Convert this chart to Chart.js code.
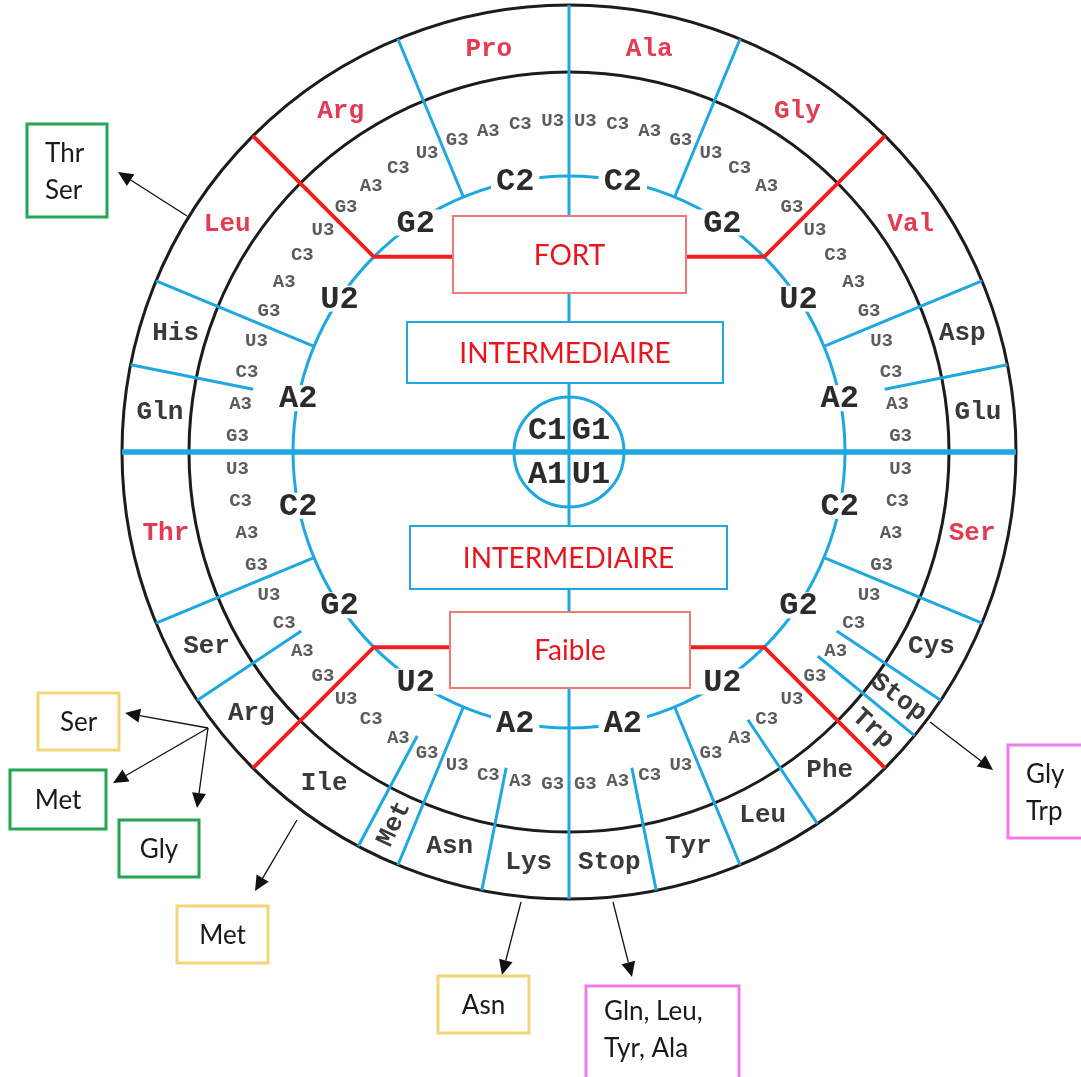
<!DOCTYPE html>
<html>
<head>
<meta charset="utf-8">
<script src="https://cdn.jsdelivr.net/npm/chart.js@4.4.1/dist/chart.umd.min.js"></script>
<style>
  html, body { margin: 0; padding: 0; background: #fff; overflow: hidden; }
  canvas { display: block; }
</style>
</head>
<body>
<canvas id="wheel" width="1081" height="1077"></canvas>
<script>
// ── Data ─────────────────────────────────────────────────
// Quadrants go clockwise from 12 o'clock. Inside a quadrant the 16 codons are listed
// 2nd base (outer loop) then 3rd base (inner loop), starting from the axis the quadrant opens on.
const FIRST_BASES  = ['G1', 'U1', 'A1', 'C1'];
const SECOND_BASES = ['C2', 'G2', 'U2', 'A2'];
const THIRD_BASES  = ['U3', 'C3', 'A3', 'G3'];

const AA_G1 = ['Ala','Ala','Ala','Ala', 'Gly','Gly','Gly','Gly', 'Val','Val','Val','Val', 'Asp','Asp','Glu','Glu'];
const AA_U1 = ['Ser','Ser','Ser','Ser', 'Cys','Cys','Stop','Trp', 'Phe','Phe','Leu','Leu', 'Tyr','Tyr','Stop','Stop'];
const AA_A1 = ['Thr','Thr','Thr','Thr', 'Ser','Ser','Arg','Arg', 'Ile','Ile','Ile','Met', 'Asn','Asn','Lys','Lys'];
const AA_C1 = ['Pro','Pro','Pro','Pro', 'Arg','Arg','Arg','Arg', 'Leu','Leu','Leu','Leu', 'His','His','Gln','Gln'];
const AMINO = [AA_G1, AA_U1, AA_A1, AA_C1];

const BOX_LABELS   = ['FORT', 'INTERMEDIAIRE', 'INTERMEDIAIRE', 'Faible'];
const CALLOUT_TEXT = [['Thr', 'Ser'], ['Ser'], ['Met'], ['Gly'], ['Met'], ['Asn'], ['Gln, Leu,', 'Tyr, Ala'], ['Gly', 'Trp']];

// ── Layout (chart units = px, origin at the wheel centre) ─
const QUAD_START = [0, 90, 270, 360];   // degrees clockwise from 12 o'clock
const QUAD_DIR   = [1, 1, -1, -1];
const STEP = 90 / 16;
const R = { outer: 447, ring: 380, aa: 411, third: 332, sub: 322, second: 276, hub: 55, hubText: 31 };

const BLUE = '#1fa8e0', RED = '#f01e1e', INK = '#1c1c1c';
const MONO = '"Liberation Mono", "Courier New", monospace';
const SANS = 'Lato, "Open Sans", sans-serif';

// x0,x1,y0,y1 in chart units (y up)
const BOXES = [
  { x0: -116, x1: 117, y0: 159, y1: 236, stroke: '#f07a7a' },
  { x0: -162, x1: 154, y0: 69,  y1: 130, stroke: BLUE },
  { x0: -159, x1: 158, y0: -137, y1: -74, stroke: BLUE },
  { x0: -119, x1: 121, y0: -236, y1: -160, stroke: '#f07a7a' },
];
const GREEN = '#25a456', YELLOW = '#f3d67a', PINK = '#ee7cef';
const CALLOUTS = [
  { box: [-542, -462, 235, 328],  from: [-382, 236],  tip: [-451, 280],  color: GREEN },
  { box: [-531, -450, -298, -241], from: [-361, -276], tip: [-444, -261], color: YELLOW },
  { box: [-559, -463, -377, -318], from: [-361, -276], tip: [-456, -331], color: GREEN },
  { box: [-450, -370, -425, -368], from: [-361, -276], tip: [-372, -356], color: GREEN },
  { box: [-392, -301, -511, -454], from: [-272, -368], tip: [-314, -439], color: YELLOW },
  { box: [-131, -40, -581, -524],  from: [-48, -450],  tip: [-67, -523],  color: YELLOW },
  { box: [17, 170, -645, -534],    from: [44, -450],   tip: [63, -525],   color: PINK },
  { box: [439, 525, -386, -293],   from: [361, -270],  tip: [424, -318],  color: PINK },
];

const rad = d => d * Math.PI / 180;
const toXY = (r, deg) => ({ x: r * Math.sin(rad(deg)), y: r * Math.cos(rad(deg)) });
const codonAngle = (q, k) => QUAD_START[q] + QUAD_DIR[q] * k * STEP;

// ── Radial lines as datasets ─────────────────────────────
const lineSets = [];
function addLine(points, color, width) {
  lineSets.push({ data: points, borderColor: color, borderWidth: width, showLine: true,
                  pointRadius: 0, borderCapStyle: 'butt', borderJoinStyle: 'miter' });
}
addLine([toXY(R.outer, 0), toXY(R.outer, 180)], BLUE, 3);
addLine([toXY(R.outer, 270), toXY(R.outer, 90)], BLUE, 5.5);

FIRST_BASES.forEach((fb, q) => {
  for (let k = 1; k < 16; k++) {
    const deg = codonAngle(q, k);
    if (k % 4 === 0) {
      const before = SECOND_BASES[k / 4 - 1], after = SECOND_BASES[k / 4];
      if (before === 'G2' && after === 'U2') {
        const p = toXY(R.second, deg);
        const box = p.y > 0 ? BOXES[0] : BOXES[3];
        addLine([{ x: p.x < 0 ? box.x0 : box.x1, y: p.y }, p, toXY(R.outer, deg)], RED, 4);
      } else {
        addLine([toXY(R.second, deg), toXY(R.outer, deg)], BLUE, 3);
      }
    } else if (AMINO[q][k - 1] !== AMINO[q][k]) {
      addLine([toXY(R.sub, deg), toXY(R.outer, deg)], BLUE, 3);
    }
  }
});

// ── Drawing helpers (everything converted through the scales) ─
function px(chart, x, y) {
  return [chart.scales.x.getPixelForValue(x), chart.scales.y.getPixelForValue(y)];
}
function plen(chart, r) {
  return chart.scales.x.getPixelForValue(r) - chart.scales.x.getPixelForValue(0);
}
function circle(chart, r, color, width) {
  const ctx = chart.ctx, [cx, cy] = px(chart, 0, 0);
  ctx.beginPath();
  ctx.arc(cx, cy, plen(chart, r), 0, Math.PI * 2);
  ctx.strokeStyle = color; ctx.lineWidth = width; ctx.stroke();
}
function label(chart, text, r, deg, font, color, opts = {}) {
  const ctx = chart.ctx, p = toXY(r, deg), [x, y] = px(chart, p.x, p.y);
  ctx.save();
  ctx.font = font;
  ctx.textAlign = 'center';
  ctx.textBaseline = 'middle';
  ctx.translate(x, y);
  if (opts.rotate !== undefined) ctx.rotate(rad(opts.rotate));
  if (opts.knockout) {
    const w = ctx.measureText(text).width;
    ctx.fillStyle = '#fff';
    ctx.fillRect(-w / 2 - 5, -opts.knockout / 2, w + 10, opts.knockout);
  }
  ctx.fillStyle = color;
  ctx.fillText(text, 0, 1);
  ctx.restore();
}
function arrow(chart, from, tip) {
  const ctx = chart.ctx;
  const [x1, y1] = px(chart, from[0], from[1]), [x2, y2] = px(chart, tip[0], tip[1]);
  const a = Math.atan2(y2 - y1, x2 - x1), L = 15, W = 7;
  const bx = x2 - L * Math.cos(a), by = y2 - L * Math.sin(a);
  ctx.beginPath(); ctx.moveTo(x1, y1); ctx.lineTo(bx, by);
  ctx.strokeStyle = '#111'; ctx.lineWidth = 1.3; ctx.stroke();
  ctx.beginPath();
  ctx.moveTo(x2, y2);
  ctx.lineTo(bx + W * Math.sin(a), by - W * Math.cos(a));
  ctx.lineTo(bx - W * Math.sin(a), by + W * Math.cos(a));
  ctx.closePath(); ctx.fillStyle = '#111'; ctx.fill();
}

const wheelPlugin = {
  id: 'wheel',
  beforeDatasetsDraw(chart) {
    circle(chart, R.outer, INK, 3);
    circle(chart, R.ring, INK, 3);
    circle(chart, R.second, BLUE, 3);
    circle(chart, R.hub, BLUE, 3);
  },
  afterDatasetsDraw(chart) {
    const ctx = chart.ctx;

    FIRST_BASES.forEach((fb, q) => {
      // second base on the blue ring, arc knocked out behind it
      SECOND_BASES.forEach((sb, s) => {
        label(chart, sb, R.second, codonAngle(q, s * 4 + 2), `bold 32px ${MONO}`, '#2b2b2b', { knockout: 26 });
      });
      // third bases
      for (let k = 0; k < 16; k++) {
        label(chart, THIRD_BASES[k % 4], R.third, codonAngle(q, k + 0.5), `bold 19px ${MONO}`, '#5c5c5c');
      }
      // amino acids, one label per run inside a 2nd-base sector
      const aa = AMINO[q];
      let start = 0;
      for (let k = 1; k <= 16; k++) {
        if (k === 16 || k % 4 === 0 || aa[k] !== aa[start]) {
          const n = k - start, deg = codonAngle(q, (start + k) / 2);
          const color = n === 4 ? '#e43a52' : '#3a3a3a';
          const opts = {};
          if (n === 1) {
            const phi = ((deg - 90) % 360 + 360) % 360;
            opts.rotate = (phi > 90 && phi < 270) ? phi - 180 : phi;
          }
          label(chart, aa[start], R.aa, deg, `bold 26px ${MONO}`, color, opts);
          start = k;
        }
      }
      // first base in the hub
      label(chart, fb, R.hubText, codonAngle(q, 8), `bold 32px ${MONO}`, '#2b2b2b');
    });

    // strength boxes
    BOXES.forEach((b, i) => {
      const [x0, y0] = px(chart, b.x0, b.y1), [x1, y1] = px(chart, b.x1, b.y0);
      ctx.fillStyle = '#fff';
      ctx.fillRect(x0, y0, x1 - x0, y1 - y0);
      ctx.strokeStyle = b.stroke; ctx.lineWidth = 2;
      ctx.strokeRect(x0, y0, x1 - x0, y1 - y0);
      ctx.font = `28px ${SANS}`;
      ctx.fillStyle = '#e8141e';
      ctx.textAlign = 'center'; ctx.textBaseline = 'middle';
      ctx.fillText(BOX_LABELS[i], (x0 + x1) / 2, (y0 + y1) / 2 + 1);
    });

    // callouts
    CALLOUTS.forEach((c, i) => {
      arrow(chart, c.from, c.tip);
      const [x0, y0] = px(chart, c.box[0], c.box[3]), [x1, y1] = px(chart, c.box[1], c.box[2]);
      ctx.strokeStyle = c.color; ctx.lineWidth = 3;
      ctx.strokeRect(x0, y0, x1 - x0, y1 - y0);
      const lines = CALLOUT_TEXT[i];
      ctx.font = `26px ${SANS}`;
      ctx.fillStyle = '#1a1a1a';
      ctx.textBaseline = 'middle';
      if (lines.length === 1) {
        ctx.textAlign = 'center';
        ctx.fillText(lines[0], (x0 + x1) / 2, (y0 + y1) / 2 + 1);
      } else {
        ctx.textAlign = 'left';
        const top = c.color === PINK && y1 > 1000 ? y0 + 26 : (y0 + y1) / 2 - 17;
        lines.forEach((t, j) => ctx.fillText(t, x0 + 18, top + j * 37));
      }
    });
  }
};

new Chart(document.getElementById('wheel'), {
  type: 'scatter',
  data: { datasets: lineSets },
  options: {
    responsive: false,
    animation: false,
    events: [],
    layout: { padding: 0 },
    plugins: { legend: { display: false }, tooltip: { enabled: false } },
    scales: {
      x: { type: 'linear', min: -569, max: 512, display: false },
      y: { type: 'linear', min: -625, max: 452, display: false },
    },
  },
  plugins: [wheelPlugin],
});
</script>
</body>
</html>
